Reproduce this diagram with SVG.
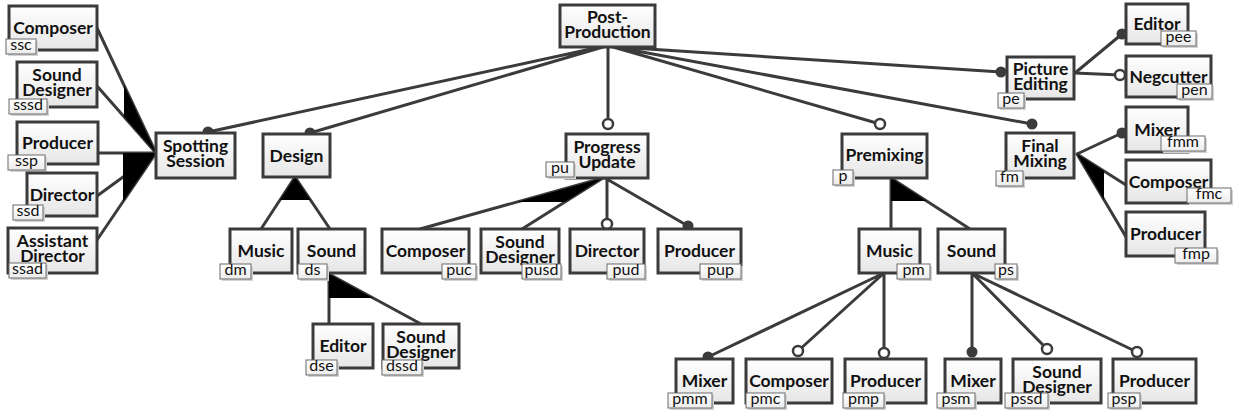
<svg xmlns="http://www.w3.org/2000/svg" width="1239" height="417" viewBox="0 0 1239 417">
  <defs>
    <linearGradient id="boxFill" x1="0" y1="0" x2="0" y2="1">
      <stop offset="0" stop-color="#ffffff"/>
      <stop offset="1" stop-color="#e6e6e6"/>
    </linearGradient>
    <linearGradient id="tagFill" x1="0" y1="0" x2="0" y2="1">
      <stop offset="0" stop-color="#ffffff"/>
      <stop offset="1" stop-color="#ececec"/>
    </linearGradient>
  </defs>
  <style>
    .box{fill:url(#boxFill);stroke:#3b3b3b;stroke-width:3}
    .tag{fill:url(#tagFill);stroke:#6a6a6a;stroke-width:1}
    .tagsh{fill:#d2d2d2}
    .name{font-family:Lato,"Liberation Sans",sans-serif;font-weight:bold;font-size:17.5px;fill:#111;text-anchor:middle}
    .tt{font-family:Lato,"Liberation Sans",sans-serif;font-size:16px;fill:#111;text-anchor:middle}
    .edge{stroke:#3b3b3b;stroke-width:3;fill:none;stroke-linecap:round}
    .wedge{fill:#000}
    .mand{fill:#3b3b3b}
    .opt{fill:#fff;stroke:#3b3b3b;stroke-width:2.5}
  </style>

  <!-- feature relations: lines, group wedges, mandatory/optional ends -->
  <g id="connectors">
    <path class="edge" d="M600,47L208,132M603,47L310,133M608,47L608,124M613,47L880,124M617,47L1001,72M615,47L1032,124"/>
    <path class="edge" d="M156,153L97,28M156,153L97,86M156,153L98,153M156,153L97,196M156,153L97,240"/>
    <polygon class="wedge" points="156,153 124,85 124,117"/>
    <polygon class="wedge" points="156,153 123,153 123,201.7"/>
    <path class="edge" d="M295,177L261,229M295,177L330,229"/>
    <polygon class="wedge" points="295,177 280,200 310.5,200"/>
    <path class="edge" d="M329,274L329,324M329,274L421,324"/>
    <polygon class="wedge" points="329,274 329,298 373,298"/>
    <path class="edge" d="M603,178L420,229M603,178L522,229M607,178L607,224M605,178L688,226"/>
    <polygon class="wedge" points="603,178 517,202 565,202"/>
    <path class="edge" d="M891,178L891,229M891,178L970,229"/>
    <polygon class="wedge" points="891,178 891,201 926.6,201"/>
    <path class="edge" d="M884,273L708,357M884,273L798,351M884,273L884,353"/>
    <path class="edge" d="M972,273L972,352M972,273L1047,349M972,273L1137,352"/>
    <path class="edge" d="M1075,73L1122,34M1075,73L1120,75"/>
    <path class="edge" d="M1077,154L1122,133M1077,154L1126,185M1077,154L1126,237"/>
    <polygon class="wedge" points="1077,154 1104,171 1104,200"/>
    <circle class="mand" cx="208" cy="132" r="5.5"/>
    <circle class="mand" cx="310" cy="133" r="5.5"/>
    <circle class="opt" cx="608" cy="124" r="5"/>
    <circle class="opt" cx="880" cy="124" r="5"/>
    <circle class="mand" cx="1001" cy="72" r="5.5"/>
    <circle class="mand" cx="1032" cy="124" r="5.5"/>
    <circle class="opt" cx="607" cy="224" r="5"/>
    <circle class="mand" cx="688" cy="226" r="5.5"/>
    <circle class="mand" cx="708" cy="357" r="5.5"/>
    <circle class="opt" cx="798" cy="351" r="5"/>
    <circle class="opt" cx="884" cy="353" r="5"/>
    <circle class="mand" cx="972" cy="352" r="5.5"/>
    <circle class="opt" cx="1047" cy="349" r="5"/>
    <circle class="opt" cx="1137" cy="352" r="5"/>
    <circle class="mand" cx="1122" cy="34" r="5.5"/>
    <circle class="opt" cx="1120" cy="75" r="5"/>
    <circle class="mand" cx="1122" cy="133" r="5.5"/>
  </g>

  <g id="post-production">
    <rect class="box" x="560" y="5" width="95" height="42"/>
    <text class="name" x="607.5" y="22.5">Post-</text>
    <text class="name" x="607.5" y="37.5">Production</text>
  </g>

  <g id="spotting-session">
    <rect class="box" x="156" y="133" width="79" height="45"/>
    <text class="name" x="195.5" y="152">Spotting</text>
    <text class="name" x="195.5" y="167">Session</text>
  </g>
  <g id="ssc">
    <rect class="box" x="9" y="6" width="88" height="44"/>
    <text class="name" x="53" y="34">Composer</text>
    <rect class="tagsh" x="8" y="41" width="30" height="15"/>
    <rect class="tag" x="6" y="39" width="30" height="15"/>
    <text class="tt" x="21" y="50">ssc</text>
  </g>
  <g id="sssd">
    <rect class="box" x="17" y="62" width="80" height="45"/>
    <text class="name" x="57" y="81">Sound</text>
    <text class="name" x="57" y="96">Designer</text>
    <rect class="tagsh" x="11" y="101" width="38" height="15"/>
    <rect class="tag" x="9" y="99" width="38" height="15"/>
    <text class="tt" x="28" y="110">sssd</text>
  </g>
  <g id="ssp">
    <rect class="box" x="17" y="122" width="81" height="42"/>
    <text class="name" x="57.5" y="149">Producer</text>
    <rect class="tagsh" x="10" y="157" width="37" height="15"/>
    <rect class="tag" x="8" y="155" width="37" height="15"/>
    <text class="tt" x="26.5" y="166">ssp</text>
  </g>
  <g id="ssd">
    <rect class="box" x="27" y="173" width="70" height="43"/>
    <text class="name" x="62" y="200.5">Director</text>
    <rect class="tagsh" x="15" y="207" width="30" height="15"/>
    <rect class="tag" x="13" y="205" width="30" height="15"/>
    <text class="tt" x="28" y="216">ssd</text>
  </g>
  <g id="ssad">
    <rect class="box" x="8" y="228" width="89" height="45"/>
    <text class="name" x="52.5" y="247">Assistant</text>
    <text class="name" x="52.5" y="262">Director</text>
    <rect class="tagsh" x="11" y="265" width="37" height="15"/>
    <rect class="tag" x="9" y="263" width="37" height="15"/>
    <text class="tt" x="27.5" y="274">ssad</text>
  </g>

  <g id="design">
    <rect class="box" x="263" y="134" width="67" height="43"/>
    <text class="name" x="296.5" y="161.5">Design</text>
  </g>
  <g id="dm">
    <rect class="box" x="230" y="229" width="62" height="44"/>
    <text class="name" x="261" y="257">Music</text>
    <rect class="tagsh" x="222" y="266" width="31" height="15"/>
    <rect class="tag" x="220" y="264" width="31" height="15"/>
    <text class="tt" x="235.5" y="275">dm</text>
  </g>
  <g id="ds">
    <rect class="box" x="298" y="229" width="67" height="44"/>
    <text class="name" x="331.5" y="257">Sound</text>
    <rect class="tagsh" x="300" y="266" width="29" height="15"/>
    <rect class="tag" x="298" y="264" width="29" height="15"/>
    <text class="tt" x="312.5" y="275">ds</text>
  </g>
  <g id="dse">
    <rect class="box" x="313" y="324" width="60" height="44"/>
    <text class="name" x="343" y="352">Editor</text>
    <rect class="tagsh" x="308" y="362" width="31" height="15"/>
    <rect class="tag" x="306" y="360" width="31" height="15"/>
    <text class="tt" x="321.5" y="371">dse</text>
  </g>
  <g id="dssd">
    <rect class="box" x="383" y="324" width="76" height="44"/>
    <text class="name" x="421" y="342.5">Sound</text>
    <text class="name" x="421" y="357.5">Designer</text>
    <rect class="tagsh" x="384" y="362" width="40" height="15"/>
    <rect class="tag" x="382" y="360" width="40" height="15"/>
    <text class="tt" x="402" y="371">dssd</text>
  </g>

  <g id="pu">
    <rect class="box" x="566" y="134" width="82" height="44"/>
    <text class="name" x="607" y="152.5">Progress</text>
    <text class="name" x="607" y="167.5">Update</text>
    <rect class="tagsh" x="548" y="164" width="28" height="15"/>
    <rect class="tag" x="546" y="162" width="28" height="15"/>
    <text class="tt" x="560" y="173">pu</text>
  </g>
  <g id="puc">
    <rect class="box" x="382" y="229" width="87" height="44"/>
    <text class="name" x="425.5" y="257">Composer</text>
    <rect class="tagsh" x="444" y="266" width="34" height="15"/>
    <rect class="tag" x="442" y="264" width="34" height="15"/>
    <text class="tt" x="459" y="275">puc</text>
  </g>
  <g id="pusd">
    <rect class="box" x="481" y="229" width="78" height="44"/>
    <text class="name" x="520" y="247.5">Sound</text>
    <text class="name" x="520" y="262.5">Designer</text>
    <rect class="tagsh" x="524" y="266" width="39" height="15"/>
    <rect class="tag" x="522" y="264" width="39" height="15"/>
    <text class="tt" x="541.5" y="275">pusd</text>
  </g>
  <g id="pud">
    <rect class="box" x="570" y="229" width="74" height="44"/>
    <text class="name" x="607" y="257">Director</text>
    <rect class="tagsh" x="609" y="266" width="38" height="15"/>
    <rect class="tag" x="607" y="264" width="38" height="15"/>
    <text class="tt" x="626" y="275">pud</text>
  </g>
  <g id="pup">
    <rect class="box" x="658" y="229" width="83" height="44"/>
    <text class="name" x="699.5" y="257">Producer</text>
    <rect class="tagsh" x="702" y="266" width="41" height="15"/>
    <rect class="tag" x="700" y="264" width="41" height="15"/>
    <text class="tt" x="720.5" y="275">pup</text>
  </g>

  <g id="p">
    <rect class="box" x="842" y="134" width="85" height="44"/>
    <text class="name" x="884.5" y="161">Premixing</text>
    <rect class="tagsh" x="835" y="172" width="20" height="15"/>
    <rect class="tag" x="833" y="170" width="20" height="15"/>
    <text class="tt" x="843" y="181">p</text>
  </g>
  <g id="pm">
    <rect class="box" x="859" y="229" width="61" height="44"/>
    <text class="name" x="889.5" y="257">Music</text>
    <rect class="tagsh" x="899" y="266" width="33" height="15"/>
    <rect class="tag" x="897" y="264" width="33" height="15"/>
    <text class="tt" x="913.5" y="275">pm</text>
  </g>
  <g id="ps">
    <rect class="box" x="938" y="229" width="67" height="44"/>
    <text class="name" x="971.5" y="257">Sound</text>
    <rect class="tagsh" x="997" y="266" width="22" height="15"/>
    <rect class="tag" x="995" y="264" width="22" height="15"/>
    <text class="tt" x="1006" y="275">ps</text>
  </g>
  <g id="pmm">
    <rect class="box" x="676" y="359" width="57" height="44"/>
    <text class="name" x="704.5" y="387">Mixer</text>
    <rect class="tagsh" x="670" y="395" width="44" height="15"/>
    <rect class="tag" x="668" y="393" width="44" height="15"/>
    <text class="tt" x="690" y="404">pmm</text>
  </g>
  <g id="pmc">
    <rect class="box" x="746" y="359" width="86" height="44"/>
    <text class="name" x="789" y="387">Composer</text>
    <rect class="tagsh" x="748" y="395" width="39" height="15"/>
    <rect class="tag" x="746" y="393" width="39" height="15"/>
    <text class="tt" x="765.5" y="404">pmc</text>
  </g>
  <g id="pmp">
    <rect class="box" x="845" y="359" width="81" height="44"/>
    <text class="name" x="885.5" y="387">Producer</text>
    <rect class="tagsh" x="845" y="395" width="41" height="15"/>
    <rect class="tag" x="843" y="393" width="41" height="15"/>
    <text class="tt" x="863.5" y="404">pmp</text>
  </g>
  <g id="psm">
    <rect class="box" x="945" y="359" width="56" height="44"/>
    <text class="name" x="973" y="387">Mixer</text>
    <rect class="tagsh" x="939" y="395" width="38" height="15"/>
    <rect class="tag" x="937" y="393" width="38" height="15"/>
    <text class="tt" x="956" y="404">psm</text>
  </g>
  <g id="pssd">
    <rect class="box" x="1013" y="359" width="88" height="44"/>
    <text class="name" x="1057" y="377.5">Sound</text>
    <text class="name" x="1057" y="392.5">Designer</text>
    <rect class="tagsh" x="1007" y="395" width="43" height="15"/>
    <rect class="tag" x="1005" y="393" width="43" height="15"/>
    <text class="tt" x="1026.5" y="404">pssd</text>
  </g>
  <g id="psp">
    <rect class="box" x="1113" y="359" width="83" height="44"/>
    <text class="name" x="1154.5" y="387">Producer</text>
    <rect class="tagsh" x="1110" y="395" width="32" height="15"/>
    <rect class="tag" x="1108" y="393" width="32" height="15"/>
    <text class="tt" x="1124" y="404">psp</text>
  </g>

  <g id="pe">
    <rect class="box" x="1007" y="57" width="67" height="42"/>
    <text class="name" x="1040.5" y="74.5">Picture</text>
    <text class="name" x="1040.5" y="89.5">Editing</text>
    <rect class="tagsh" x="1000" y="95" width="26" height="15"/>
    <rect class="tag" x="998" y="93" width="26" height="15"/>
    <text class="tt" x="1011" y="104">pe</text>
  </g>
  <g id="pee">
    <rect class="box" x="1126" y="4" width="62" height="40"/>
    <text class="name" x="1157" y="30">Editor</text>
    <rect class="tagsh" x="1163" y="33" width="35" height="15"/>
    <rect class="tag" x="1161" y="31" width="35" height="15"/>
    <text class="tt" x="1178.5" y="42">pee</text>
  </g>
  <g id="pen">
    <rect class="box" x="1126" y="56" width="85" height="41"/>
    <text class="name" x="1168.5" y="82.5">Negcutter</text>
    <rect class="tagsh" x="1179" y="86" width="35" height="15"/>
    <rect class="tag" x="1177" y="84" width="35" height="15"/>
    <text class="tt" x="1194.5" y="95">pen</text>
  </g>

  <g id="fm">
    <rect class="box" x="1006" y="133" width="68" height="45"/>
    <text class="name" x="1040" y="152">Final</text>
    <text class="name" x="1040" y="167">Mixing</text>
    <rect class="tagsh" x="998" y="173" width="27" height="15"/>
    <rect class="tag" x="996" y="171" width="27" height="15"/>
    <text class="tt" x="1009.5" y="182">fm</text>
  </g>
  <g id="fmm">
    <rect class="box" x="1126" y="107" width="62" height="45"/>
    <text class="name" x="1157" y="135.5">Mixer</text>
    <rect class="tagsh" x="1163" y="138" width="44" height="15"/>
    <rect class="tag" x="1161" y="136" width="44" height="15"/>
    <text class="tt" x="1183" y="147">fmm</text>
  </g>
  <g id="fmc">
    <rect class="box" x="1126" y="160" width="85" height="43"/>
    <text class="name" x="1168.5" y="187.5">Composer</text>
    <rect class="tagsh" x="1189" y="190" width="44" height="15"/>
    <rect class="tag" x="1187" y="188" width="44" height="15"/>
    <text class="tt" x="1209" y="199">fmc</text>
  </g>
  <g id="fmp">
    <rect class="box" x="1126" y="212" width="79" height="44"/>
    <text class="name" x="1165.5" y="240">Producer</text>
    <rect class="tagsh" x="1177" y="250" width="42" height="15"/>
    <rect class="tag" x="1175" y="248" width="42" height="15"/>
    <text class="tt" x="1196" y="259">fmp</text>
  </g>
</svg>
